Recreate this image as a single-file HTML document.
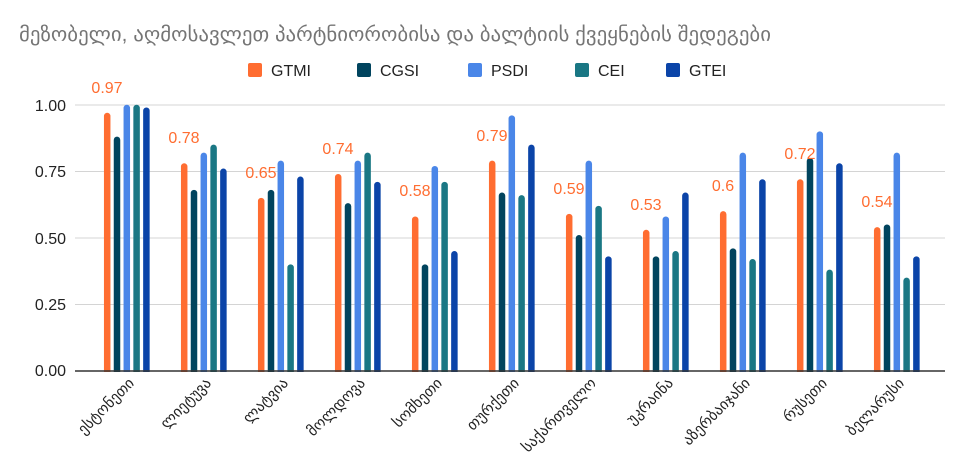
<!DOCTYPE html><html><head><meta charset="utf-8"><style>body{margin:0;background:#fff}svg{display:block}text{font-family:"Liberation Sans","DejaVu Sans",sans-serif}</style></head><body>
<svg width="975" height="473" xmlns="http://www.w3.org/2000/svg">
<text x="19" y="41" font-size="20" fill="#757575" font-family="DejaVu Sans, sans-serif" textLength="752" lengthAdjust="spacingAndGlyphs">მეზობელი, აღმოსავლეთ პარტნიორობისა და ბალტიის ქვეყნების შედეგები</text>
<g font-size="16" fill="#222">
<rect x="248" y="63" width="14" height="14" rx="2" fill="#ff6d31"/><text x="271" y="76">GTMI</text>
<rect x="357" y="63" width="14" height="14" rx="2" fill="#01445e"/><text x="380" y="76">CGSI</text>
<rect x="468" y="63" width="14" height="14" rx="2" fill="#4a86e8"/><text x="491" y="76">PSDI</text>
<rect x="575" y="63" width="14" height="14" rx="2" fill="#1a7784"/><text x="598" y="76">CEI</text>
<rect x="666" y="63" width="14" height="14" rx="2" fill="#0b44a8"/><text x="689" y="76">GTEI</text>
</g>
<g stroke="#d4d4d4" stroke-width="1">
<line x1="75" x2="945" y1="105" y2="105"/><line x1="75" x2="945" y1="171.5" y2="171.5"/><line x1="75" x2="945" y1="238" y2="238"/><line x1="75" x2="945" y1="304.5" y2="304.5"/>
</g>
<g font-size="16" fill="#222" text-anchor="end">
<text x="66" y="111">1.00</text><text x="66" y="177">0.75</text><text x="66" y="244">0.50</text><text x="66" y="310">0.25</text><text x="66" y="376">0.00</text>
</g>
<g stroke-width="6.5" stroke-linecap="round">
<g stroke="#ff6d31">
<line x1="107.2" x2="107.2" y1="116" y2="375"/><line x1="184.2" x2="184.2" y1="166.5" y2="375"/><line x1="261.2" x2="261.2" y1="201.1" y2="375"/><line x1="338.2" x2="338.2" y1="177.2" y2="375"/><line x1="415.2" x2="415.2" y1="219.7" y2="375"/><line x1="492.2" x2="492.2" y1="163.9" y2="375"/><line x1="569.2" x2="569.2" y1="217.1" y2="375"/><line x1="646.2" x2="646.2" y1="233" y2="375"/><line x1="723.2" x2="723.2" y1="214.4" y2="375"/><line x1="800.2" x2="800.2" y1="182.5" y2="375"/><line x1="877.2" x2="877.2" y1="230.4" y2="375"/>
</g>
<g stroke="#01445e">
<line x1="117" x2="117" y1="139.9" y2="375"/><line x1="194" x2="194" y1="193.1" y2="375"/><line x1="271" x2="271" y1="193.1" y2="375"/><line x1="348" x2="348" y1="206.4" y2="375"/><line x1="425" x2="425" y1="267.6" y2="375"/><line x1="502" x2="502" y1="195.8" y2="375"/><line x1="579" x2="579" y1="238.3" y2="375"/><line x1="656" x2="656" y1="259.6" y2="375"/><line x1="733" x2="733" y1="251.6" y2="375"/><line x1="810" x2="810" y1="161.2" y2="375"/><line x1="887" x2="887" y1="227.7" y2="375"/>
</g>
<g stroke="#4a86e8">
<line x1="126.8" x2="126.8" y1="108" y2="375"/><line x1="203.8" x2="203.8" y1="155.9" y2="375"/><line x1="280.8" x2="280.8" y1="163.9" y2="375"/><line x1="357.8" x2="357.8" y1="163.9" y2="375"/><line x1="434.8" x2="434.8" y1="169.2" y2="375"/><line x1="511.8" x2="511.8" y1="118.6" y2="375"/><line x1="588.8" x2="588.8" y1="163.9" y2="375"/><line x1="665.8" x2="665.8" y1="219.7" y2="375"/><line x1="742.8" x2="742.8" y1="155.9" y2="375"/><line x1="819.8" x2="819.8" y1="134.6" y2="375"/><line x1="896.8" x2="896.8" y1="155.9" y2="375"/>
</g>
<g stroke="#1a7784">
<line x1="136.6" x2="136.6" y1="108" y2="375"/><line x1="213.6" x2="213.6" y1="147.9" y2="375"/><line x1="290.6" x2="290.6" y1="267.6" y2="375"/><line x1="367.6" x2="367.6" y1="155.9" y2="375"/><line x1="444.6" x2="444.6" y1="185.1" y2="375"/><line x1="521.6" x2="521.6" y1="198.4" y2="375"/><line x1="598.6" x2="598.6" y1="209.1" y2="375"/><line x1="675.6" x2="675.6" y1="254.3" y2="375"/><line x1="752.6" x2="752.6" y1="262.3" y2="375"/><line x1="829.6" x2="829.6" y1="272.9" y2="375"/><line x1="906.6" x2="906.6" y1="280.9" y2="375"/>
</g>
<g stroke="#0b44a8">
<line x1="146.4" x2="146.4" y1="110.7" y2="375"/><line x1="223.4" x2="223.4" y1="171.8" y2="375"/><line x1="300.4" x2="300.4" y1="179.8" y2="375"/><line x1="377.4" x2="377.4" y1="185.1" y2="375"/><line x1="454.4" x2="454.4" y1="254.3" y2="375"/><line x1="531.4" x2="531.4" y1="147.9" y2="375"/><line x1="608.4" x2="608.4" y1="259.6" y2="375"/><line x1="685.4" x2="685.4" y1="195.8" y2="375"/><line x1="762.4" x2="762.4" y1="182.5" y2="375"/><line x1="839.4" x2="839.4" y1="166.5" y2="375"/><line x1="916.4" x2="916.4" y1="259.6" y2="375"/>
</g>
</g>
<rect x="70" y="372" width="880" height="10" fill="#fff"/>
<line x1="75" x2="945" y1="371" y2="371" stroke="#333" stroke-width="1.5"/>
<g font-size="16" fill="#ff6d31" text-anchor="middle">
<text x="107" y="93">0.97</text><text x="184" y="143">0.78</text><text x="261" y="178">0.65</text><text x="338" y="154">0.74</text><text x="415" y="196">0.58</text><text x="492" y="141">0.79</text><text x="569" y="194">0.59</text><text x="646" y="210">0.53</text><text x="723" y="191">0.6</text><text x="800" y="159">0.72</text><text x="877" y="207">0.54</text>
</g>
<g font-size="15" fill="#222" font-family="DejaVu Sans, sans-serif" text-anchor="end">
<text transform="translate(135,384) rotate(-45)">ესტონეთი</text>
<text transform="translate(212,384) rotate(-45)">ლიეტუვა</text>
<text transform="translate(289,384) rotate(-45)">ლატვია</text>
<text transform="translate(366,384) rotate(-45)">მოლდოვა</text>
<text transform="translate(443,384) rotate(-45)">სომხეთი</text>
<text transform="translate(520,384) rotate(-45)">თურქეთი</text>
<text transform="translate(597,384) rotate(-45)">საქართველო</text>
<text transform="translate(674,384) rotate(-45)">უკრაინა</text>
<text transform="translate(751,384) rotate(-45)">აზერბაიჯანი</text>
<text transform="translate(828,384) rotate(-45)">რუსეთი</text>
<text transform="translate(905,384) rotate(-45)">ბელარუსი</text>
</g>
</svg></body></html>
